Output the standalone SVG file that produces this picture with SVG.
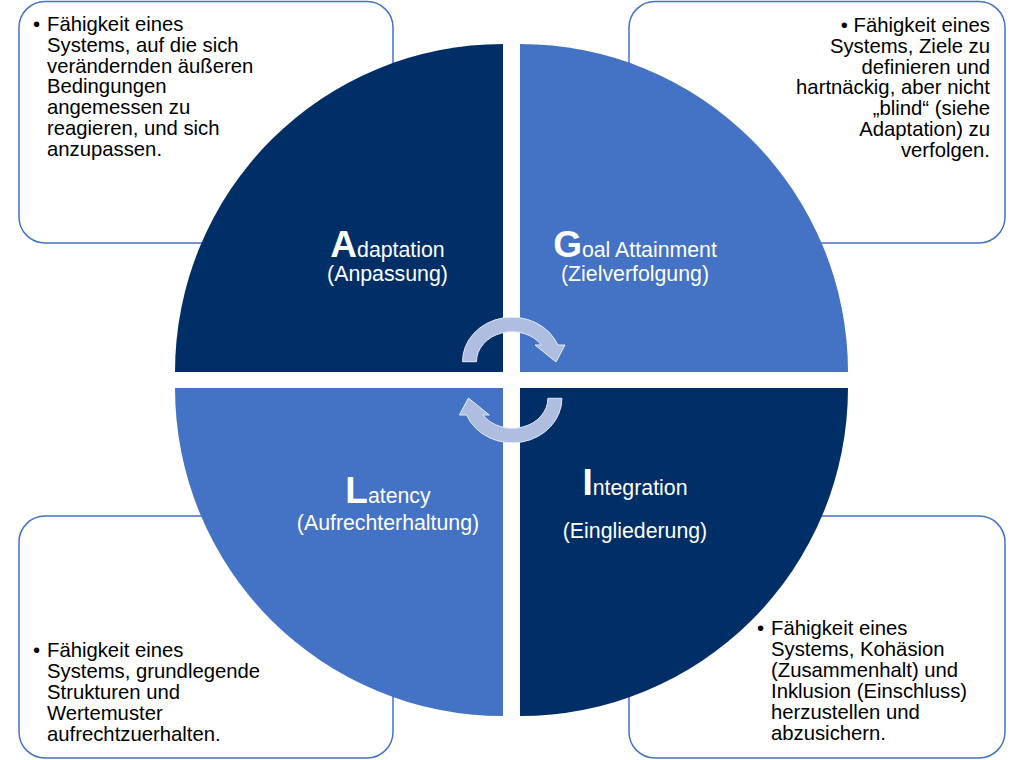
<svg xmlns="http://www.w3.org/2000/svg" width="1023" height="760" viewBox="0 0 1023 760">
  <style>
    .box { fill: #FFFFFF; stroke: #4472C4; stroke-width: 1.5; }
    .dark { fill: #002F67; }
    .light { fill: #4472C4; }
    .desc { font-family: "Liberation Sans", Arial, sans-serif; font-size: 20.3px; fill: #000000; }
    .lbl { font-family: "Liberation Sans", Arial, sans-serif; font-size: 21.3px; fill: #FFFFFF; text-anchor: middle; }
    .init { font-size: 37px; font-weight: bold; }
    .arrow { fill: #AFBDE0; stroke: #E4EAF6; stroke-width: 1; }
  </style>
  <defs>
    <path id="cyc" d="M 462.5 361.7 A 49.5 44.4 0 0 1 557.9 345 L 565 345 L 556 362 L 535 345 L 541.5 345 A 35.5 30 0 0 0 476.5 361.7 Z"/>
  </defs>
  <rect width="1023" height="760" fill="#FFFFFF"/>

  <g id="box-adaptation">
    <rect class="box" x="19" y="1.5" width="374" height="241.5" rx="26"/>
    <text class="desc">
      <tspan x="33" y="31">•</tspan>
      <tspan x="47" y="31">Fähigkeit eines</tspan>
      <tspan x="47" y="51.8">Systems, auf die sich</tspan>
      <tspan x="47" y="72.6">verändernden äußeren</tspan>
      <tspan x="47" y="93.4">Bedingungen</tspan>
      <tspan x="47" y="114.2">angemessen zu</tspan>
      <tspan x="47" y="135">reagieren, und sich</tspan>
      <tspan x="47" y="155.8">anzupassen.</tspan>
    </text>
  </g>

  <g id="box-goal">
    <rect class="box" x="629" y="1.5" width="376" height="241.5" rx="26"/>
    <text class="desc" text-anchor="end"><tspan x="990" y="31.7">• Fähigkeit eines</tspan><tspan x="990" y="52.6">Systems, Ziele zu</tspan><tspan x="990" y="73.5">definieren und</tspan><tspan x="990" y="94.4">hartnäckig, aber nicht</tspan><tspan x="990" y="115.3">„blind“ (siehe</tspan><tspan x="990" y="136.2">Adaptation) zu</tspan><tspan x="990" y="157.1">verfolgen.</tspan></text>
  </g>

  <g id="box-latency">
    <rect class="box" x="19" y="516" width="374" height="242" rx="26"/>
    <text class="desc">
      <tspan x="33" y="656.5">•</tspan>
      <tspan x="47" y="656.5">Fähigkeit eines</tspan>
      <tspan x="47" y="677.5">Systems, grundlegende</tspan>
      <tspan x="47" y="698.5">Strukturen und</tspan>
      <tspan x="47" y="719.5">Wertemuster</tspan>
      <tspan x="47" y="740.5">aufrechtzuerhalten.</tspan>
    </text>
  </g>

  <g id="box-integration">
    <rect class="box" x="629" y="516" width="376" height="242" rx="26"/>
    <text class="desc">
      <tspan x="757" y="635">•</tspan>
      <tspan x="771" y="635">Fähigkeit eines</tspan>
      <tspan x="771" y="656">Systems, Kohäsion</tspan>
      <tspan x="771" y="677">(Zusammenhalt) und</tspan>
      <tspan x="771" y="698">Inklusion (Einschluss)</tspan>
      <tspan x="771" y="719">herzustellen und</tspan>
      <tspan x="771" y="740">abzusichern.</tspan>
    </text>
  </g>

  <g id="node-adaptation">
    <path class="dark" d="M 503 372 L 175 372 A 328 328 0 0 1 503 44 Z"/>
    <text class="lbl" x="387.5" y="256.7"><tspan class="init">A</tspan>daptation</text>
    <text class="lbl" x="387.5" y="280.7">(Anpassung)</text>
  </g>

  <g id="node-goal">
    <path class="light" d="M 520 372 L 520 44 A 328 328 0 0 1 848 372 Z"/>
    <text class="lbl" x="635" y="256.7"><tspan class="init">G</tspan>oal Attainment</text>
    <text class="lbl" x="635" y="280.7">(Zielverfolgung)</text>
  </g>

  <g id="node-latency">
    <path class="light" d="M 503 388 L 503 716 A 328 328 0 0 1 175 388 Z"/>
    <text class="lbl" x="388" y="502.5"><tspan class="init" font-weight="normal">L</tspan>atency</text>
    <text class="lbl" x="388" y="530">(Aufrechterhaltung)</text>
  </g>

  <g id="node-integration">
    <path class="dark" d="M 520 388 L 848 388 A 328 328 0 0 1 520 716 Z"/>
    <text class="lbl" x="635" y="495"><tspan class="init">I</tspan>ntegration</text>
    <text class="lbl" x="635" y="538">(Eingliederung)</text>
  </g>

  <g id="connectors">
    <use href="#cyc" class="arrow"/>
    <use href="#cyc" class="arrow" transform="rotate(180 512.2 380)"/>
  </g>
</svg>
